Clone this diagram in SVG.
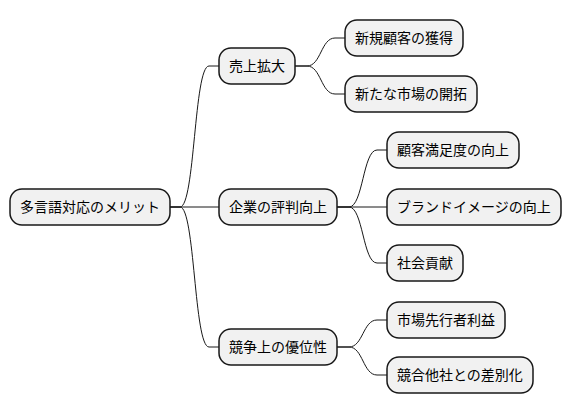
<svg xmlns="http://www.w3.org/2000/svg" width="572" height="415" viewBox="0 0 572 415">
<style>
.n rect{fill:#F1F1F1;stroke:#181818;stroke-width:1.5}
.n text{font-family:"Noto Sans CJK JP","Noto Sans CJK SC",sans-serif;font-size:14px;fill:#000}
.c path{fill:none;stroke:#181818;stroke-width:1}
</style>
<rect width="572" height="415" fill="#fff"/>
<g class="c">
<path d="M170,207 L180,207 C195,207 194,66 209,66 L219,66"/>
<path d="M170,207 L219,207"/>
<path d="M170,207 L180,207 C195,207 194,347 209,347 L219,347"/>
<path d="M295,66 L307,66 C321,66 321,38 335,38 L345,38"/>
<path d="M295,66 L307,66 C321,66 321,94 335,94 L345,94"/>
<path d="M337,207 L349,207 C363,207 363,150 377,150 L387,150"/>
<path d="M337,207 L387,207"/>
<path d="M337,207 L349,207 C363,207 363,263 377,263 L387,263"/>
<path d="M337,347 L349,347 C363,347 363,320 377,320 L387,320"/>
<path d="M337,347 L349,347 C363,347 363,375 377,375 L387,375"/>
</g>
<g id="root" class="n"><rect x="10" y="189" width="160" height="36" rx="12"/><text x="20" y="212">多言語対応のメリット</text></g>
<g id="n1" class="n"><rect x="219" y="48" width="76" height="36" rx="12"/><text x="229" y="71">売上拡大</text></g>
<g id="n2" class="n"><rect x="219" y="189" width="118" height="36" rx="12"/><text x="229" y="212">企業の評判向上</text></g>
<g id="n3" class="n"><rect x="219" y="329" width="118" height="36" rx="12"/><text x="229" y="352">競争上の優位性</text></g>
<g id="n11" class="n"><rect x="345" y="20" width="118" height="36" rx="12"/><text x="355" y="43">新規顧客の獲得</text></g>
<g id="n12" class="n"><rect x="345" y="76" width="132" height="36" rx="12"/><text x="355" y="99">新たな市場の開拓</text></g>
<g id="n21" class="n"><rect x="387" y="132" width="132" height="36" rx="12"/><text x="397" y="155">顧客満足度の向上</text></g>
<g id="n22" class="n"><rect x="387" y="189" width="174" height="36" rx="12"/><text x="397" y="212">ブランドイメージの向上</text></g>
<g id="n23" class="n"><rect x="387" y="245" width="76" height="36" rx="12"/><text x="397" y="268">社会貢献</text></g>
<g id="n31" class="n"><rect x="387" y="302" width="118" height="36" rx="12"/><text x="397" y="325">市場先行者利益</text></g>
<g id="n32" class="n"><rect x="387" y="357" width="146" height="36" rx="12"/><text x="397" y="380">競合他社との差別化</text></g>
</svg>
